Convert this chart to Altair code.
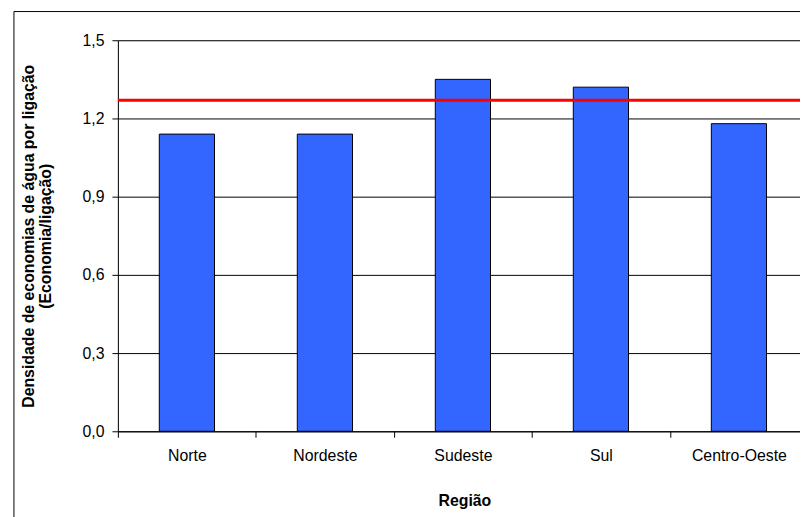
import altair as alt
import pandas as pd

regioes = ["Norte", "Nordeste", "Sudeste", "Sul", "Centro-Oeste"]
densidade = [1.14, 1.14, 1.35, 1.32, 1.18]
media = [1.27]
y_ticks = [0.0, 0.3, 0.6, 0.9, 1.2, 1.5]

df = pd.DataFrame({"Região": regioes, "Densidade": densidade})
df_media = pd.DataFrame({"media": media})
df_frame = pd.DataFrame({"a": [0]})

FONT = "Liberation Sans"

x_enc = alt.X(
    "Região:N",
    sort=regioes,
    scale=alt.Scale(paddingInner=0, paddingOuter=0),
    axis=alt.Axis(
        title="Região",
        titleFont=FONT,
        titleFontSize=16,
        titleFontWeight="bold",
        titleColor="black",
        titleX=350,
        titleY=75,
        titleBaseline="alphabetic",
        tickBand="extent",
        labelAngle=0,
        labelFont=FONT,
        labelFontSize=16,
        labelColor="black",
        labelBaseline="top",
        labelPadding=10,
        tickSize=6,
        tickColor="black",
        domainColor="black",
        grid=False,
    ),
)

y_enc = alt.Y(
    "Densidade:Q",
    scale=alt.Scale(domain=[0, 1.5], nice=False),
    axis=alt.Axis(
        title=["Densidade de economias de água por ligação", "(Economia/ligação)"],
        titleFont=FONT,
        titleFontSize=16,
        titleFontWeight="bold",
        titleColor="black",
        titleAngle=270,
        titleX=-98,
        titleY=197.5,
        titleAlign="center",
        titleBaseline="top",
        titleLineHeight=17,
        values=y_ticks,
        labelExpr="replace(format(datum.value, '.1f'), '.', ',')",
        labelFont=FONT,
        labelFontSize=16,
        labelColor="black",
        labelPadding=8,
        tickSize=6,
        tickColor="black",
        domainColor="black",
        grid=True,
        gridColor="black",
        gridWidth=1,
    ),
)

bars = alt.Chart(df).mark_bar(
    width=alt.RelativeBandSize(0.4),
    color="#3366FF",
    stroke="black",
    strokeWidth=1,
).encode(x=x_enc, y=y_enc)

rule = alt.Chart(df_media).mark_rule(color="#FF0000", strokeWidth=3).encode(
    y=alt.Y("media:Q")
)

frame = alt.Chart(df_frame).mark_rect(
    fillOpacity=0, stroke="black", strokeWidth=1
).encode(
    x=alt.value(-105), x2=alt.value(900), y=alt.value(-29), y2=alt.value(700)
)

chart = (
    alt.layer(bars, rule, frame)
    .properties(
        width=697,
        height=395,
        autosize=alt.AutoSizeParams(type="none"),
        padding={"left": 111, "top": 30, "right": -8, "bottom": 84},
        background="white",
    )
    .configure_view(stroke="black", strokeWidth=1)
    .configure(font=FONT)
)

chart.save("out.html", embed_options={"renderer": "svg", "actions": False})
